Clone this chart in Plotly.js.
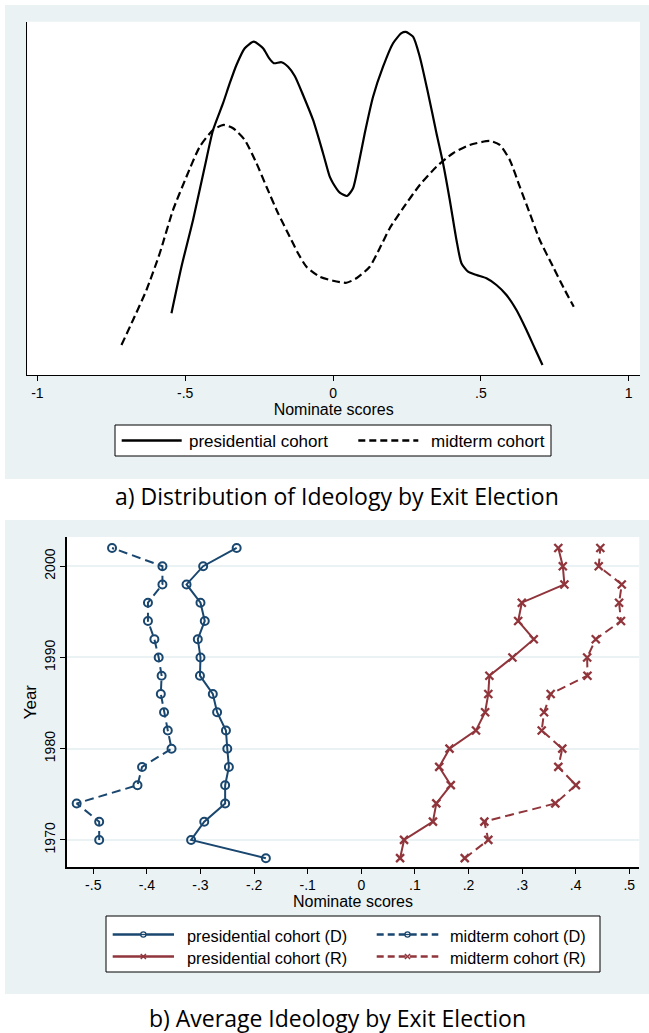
<!DOCTYPE html>
<html><head><meta charset="utf-8">
<script src="https://cdn.plot.ly/plotly-3.0.1.min.js"></script>
<style>html,body{margin:0;padding:0;background:#fff}#chart{width:649px;height:1033px}</style>
</head><body><div id="chart"></div>
<script>
// Panel a) kernel densities (read from picture)
const presX = [-0.5465,-0.5127,-0.4735,-0.4339,-0.4058,-0.372,-0.3493,-0.3267,-0.2986,-0.2682,-0.2367,-0.2164,-0.2005,-0.1745,-0.1522,-0.1295,-0.1015,-0.0676,-0.0338,-0.0112,0,0.0227,0.0473,0.0676,0.0845,0.1072,0.1353,0.1691,0.2029,0.2313,0.2459,0.2705,0.2932,0.3213,0.3497,0.372,0.3947,0.4173,0.4342,0.4565,0.485,0.5188,0.5526,0.5864,0.6202,0.654,0.6821,0.7082];
const presDens = [0.247,0.433,0.62,0.833,0.98,1.087,1.167,1.24,1.307,1.333,1.307,1.267,1.247,1.251,1.233,1.196,1.12,1.02,0.887,0.793,0.767,0.729,0.716,0.747,0.833,0.967,1.113,1.233,1.327,1.367,1.372,1.353,1.273,1.127,0.967,0.847,0.7,0.54,0.447,0.413,0.4,0.387,0.36,0.32,0.26,0.18,0.107,0.04];
const midX = [-0.7156,-0.6764,-0.631,-0.5861,-0.5411,-0.4958,-0.4508,-0.4058,-0.3696,-0.3382,-0.2986,-0.259,-0.2252,-0.186,-0.1464,-0.1184,-0.09,-0.045,0,0.0453,0.0791,0.1241,0.1579,0.1917,0.2367,0.2932,0.3497,0.4058,0.4623,0.5299,0.5637,0.5976,0.6314,0.6652,0.699,0.744,0.7836,0.814];
const midDens = [0.12,0.22,0.34,0.487,0.66,0.793,0.913,0.98,1.0,0.987,0.94,0.847,0.753,0.647,0.553,0.487,0.433,0.393,0.377,0.369,0.387,0.433,0.507,0.587,0.667,0.76,0.833,0.887,0.92,0.936,0.92,0.86,0.753,0.647,0.54,0.433,0.34,0.273];

// Panel b) average ideology by exit election year
const years = [1968,1970,1972,1974,1976,1978,1980,1982,1984,1986,1988,1990,1992,1994,1996,1998,2000,2002];
const presD = [-0.178,-0.3175,-0.293,-0.254,-0.254,-0.247,-0.25,-0.2525,-0.269,-0.277,-0.301,-0.30,-0.305,-0.292,-0.30,-0.326,-0.295,-0.2325];
const midD  = [null,-0.489,-0.489,-0.531,-0.4175,-0.409,-0.354,-0.361,-0.368,-0.374,-0.3725,-0.378,-0.386,-0.398,-0.398,-0.371,-0.371,-0.465];
const presR = [0.0724,0.0798,0.1337,0.140,0.167,0.1454,0.1646,0.214,0.231,0.237,0.239,0.282,0.3218,0.2927,0.2995,0.379,0.376,0.3676];
const midR  = [0.193,0.237,0.2296,0.362,0.4004,0.3676,0.375,0.3366,0.341,0.3533,0.422,0.4214,0.4375,0.4845,0.481,0.486,0.443,0.446];

const topTickVals = [-1,-0.5,0,0.5,1];
const topTickText = ['-1','-.5','0','.5','1'];
const botTickVals = [-0.5,-0.4,-0.3,-0.2,-0.1,0,0.1,0.2,0.3,0.4,0.5];
const botTickText = ['-.5','-.4','-.3','-.2','-.1','0','.1','.2','.3','.4','.5'];
const yearTicks = [1970,1980,1990,2000];

const namesTop = ['presidential cohort','midterm cohort'];
const namesBot = ['presidential cohort (D)','midterm cohort (D)','presidential cohort (R)','midterm cohort (R)'];
const captions = ['a) Distribution of Ideology by Exit Election','b) Average Ideology by Exit Election'];

const NAVY = '#1a476f', MAROON = '#90353b', BG = '#eaf2f3';
const W = 649, H = 1033;
const px = v => v / W, py = v => 1 - v / H;
const FONT = 'Liberation Sans, Arial, Helvetica, sans-serif';

const traces = [
  {x: presX, y: presDens, xaxis:'x', yaxis:'y', mode:'lines', name:namesTop[0],
   line:{color:'#000', width:2.2, shape:'spline', smoothing:0.6}},
  {x: midX, y: midDens, xaxis:'x', yaxis:'y', mode:'lines', name:namesTop[1],
   line:{color:'#000', width:2.2, dash:'8px,4px', shape:'spline', smoothing:0.6}},
  {x: presD, y: years, xaxis:'x2', yaxis:'y2', mode:'lines+markers', name:namesBot[0],
   line:{color:NAVY, width:2}, marker:{symbol:'circle-open', size:8, color:NAVY, line:{width:2, color:NAVY}}},
  {x: midD, y: years, xaxis:'x2', yaxis:'y2', mode:'lines+markers', name:namesBot[1],
   line:{color:NAVY, width:2, dash:'9px,5px'}, marker:{symbol:'circle-open', size:8, color:NAVY, line:{width:2, color:NAVY}}},
  {x: presR, y: years, xaxis:'x2', yaxis:'y2', mode:'lines+markers', name:namesBot[2],
   line:{color:MAROON, width:2}, marker:{symbol:'x-thin', size:8, color:MAROON, line:{width:2.3, color:MAROON}}},
  {x: midR, y: years, xaxis:'x2', yaxis:'y2', mode:'lines+markers', name:namesBot[3],
   line:{color:MAROON, width:2, dash:'9px,5px'}, marker:{symbol:'x-thin', size:8, color:MAROON, line:{width:2.3, color:MAROON}}}
];

const axisFont = {family:FONT, size:14, color:'#000'};
const titleFont = {family:FONT, size:16, color:'#000'};
const capFont = {family:'Open Sans, Noto Sans, sans-serif', size:23, color:'#000'};

// panel backgrounds and plot regions
const shapes = [
  {type:'rect', xref:'paper', yref:'paper', x0:px(5), x1:1, y0:py(479), y1:py(5), fillcolor:BG, line:{width:0}, layer:'below'},
  {type:'rect', xref:'paper', yref:'paper', x0:px(27.3), x1:px(640), y0:py(375), y1:py(21.7), fillcolor:'#fff', line:{width:0}, layer:'below'},
  {type:'rect', xref:'paper', yref:'paper', x0:px(5), x1:1, y0:py(994), y1:py(520), fillcolor:BG, line:{width:0}, layer:'below'},
  {type:'rect', xref:'paper', yref:'paper', x0:px(66.7), x1:px(639.3), y0:py(867.3), y1:py(537), fillcolor:'#fff', line:{width:0}, layer:'below'}
];
const annotations = [];

// legend drawing helpers (keys drawn from the traces' own styles)
function legendBox(x0, x1, y0, y1) {
  shapes.push({type:'rect', xref:'paper', yref:'paper', x0:px(x0), x1:px(x1), y0:py(y1), y1:py(y0),
    fillcolor:'#fff', line:{color:'#000', width:1}, layer:'above'});
}
function legendKey(tr, x0, x1, y, tx, size, mk) {
  shapes.push({type:'line', xref:'paper', yref:'paper', x0:px(x0), x1:px(x1), y0:py(y), y1:py(y),
    line:{color:tr.line.color, width:2.6, dash: tr.line.dash ? '7px,4px' : 'solid'}, layer:'above'});
  if (mk) {
    const cx = (x0 + x1) / 2, r = 2.6;
    if (tr.marker.symbol === 'circle-open') {
      shapes.push({type:'circle', xref:'paper', yref:'paper', x0:px(cx - r), x1:px(cx + r), y0:py(y + r), y1:py(y - r),
        fillcolor:'#fff', line:{color:tr.marker.color, width:1.3}, layer:'above'});
      shapes.push({type:'line', xref:'paper', yref:'paper', x0:px(cx - r), x1:px(cx + r), y0:py(y), y1:py(y),
        line:{color:tr.marker.color, width:1.3}, layer:'above'});
    } else {
      shapes.push({type:'line', xref:'paper', yref:'paper', x0:px(cx - r), x1:px(cx + r), y0:py(y - r), y1:py(y + r),
        line:{color:tr.marker.color, width:1.4}, layer:'above'});
      shapes.push({type:'line', xref:'paper', yref:'paper', x0:px(cx - r), x1:px(cx + r), y0:py(y + r), y1:py(y - r),
        line:{color:tr.marker.color, width:1.4}, layer:'above'});
    }
  }
  annotations.push({xref:'paper', yref:'paper', x:px(tx), y:py(y + 1), xanchor:'left', yanchor:'middle',
    showarrow:false, text:tr.name, font:{family:FONT, size:size, color:'#000'}});
}
legendBox(115, 551, 425, 456);
legendKey(traces[0], 121.7, 181.7, 440.5, 186.5, 17, false);
legendKey(traces[1], 358.3, 418.3, 440.5, 428.5, 17, false);
legendBox(106, 600, 916, 972);
legendKey(traces[2], 112.7, 174, 934.5, 184.5, 16.3, true);
legendKey(traces[3], 376.7, 438.3, 934.5, 447.5, 16.3, true);
legendKey(traces[4], 112.7, 174, 956.5, 184.5, 16.3, true);
legendKey(traces[5], 376.7, 438.3, 956.5, 447.5, 16.3, true);

annotations.push({xref:'paper', yref:'paper', x:px(336.5), y:py(496), xanchor:'center', yanchor:'middle', showarrow:false,
  text:captions[0], font:capFont});
annotations.push({xref:'paper', yref:'paper', x:px(337), y:py(1018), xanchor:'center', yanchor:'middle', showarrow:false,
  text:captions[1], font:capFont});

const layout = {
  width: W, height: H, margin:{l:0,r:0,t:0,b:0},
  paper_bgcolor:'#fff', plot_bgcolor:'rgba(0,0,0,0)',
  font: axisFont, showlegend:false,
  shapes: shapes, annotations: annotations,
  xaxis: {domain:[px(27.3), px(640)], range:[-1.034, 1.038], anchor:'y',
    tickvals: topTickVals, ticktext: topTickText, ticks:'outside', ticklen:5, tickwidth:1, tickcolor:'#000',
    showline:true, linecolor:'#000', linewidth:1.3, showgrid:false, zeroline:false, tickfont:axisFont,
    title:{text:'Nominate scores', font:titleFont, standoff:3}, fixedrange:true},
  yaxis: {domain:[py(375), py(21.7)], range:[0, 1.413], anchor:'x', showline:true, linecolor:'#000', linewidth:1.3,
    showticklabels:false, ticks:'', showgrid:false, zeroline:false, fixedrange:true},
  xaxis2: {domain:[px(66.7), px(639.3)], range:[-0.5496, 0.5187], anchor:'y2',
    tickvals: botTickVals, ticktext: botTickText, ticks:'outside', ticklen:5, tickwidth:1, tickcolor:'#000',
    showline:true, linecolor:'#000', linewidth:1.3, showgrid:false, zeroline:false, tickfont:axisFont,
    title:{text:'Nominate scores', font:titleFont, standoff:2}, fixedrange:true},
  yaxis2: {domain:[py(867.3), py(537)], range:[1967.0, 2003.2], anchor:'x2',
    tickvals: yearTicks, tickangle:-90, ticks:'outside', ticklen:5, tickwidth:1, tickcolor:'#000',
    showline:true, linecolor:'#000', linewidth:1.3, showgrid:true, gridcolor:BG, gridwidth:2, zeroline:false,
    tickfont:axisFont, title:{text:'Year', font:{family:FONT, size:17, color:'#000'}, standoff:0}, fixedrange:true}
};

Plotly.newPlot('chart', traces, layout, {displayModeBar:false, staticPlot:true});
</script></body></html>
